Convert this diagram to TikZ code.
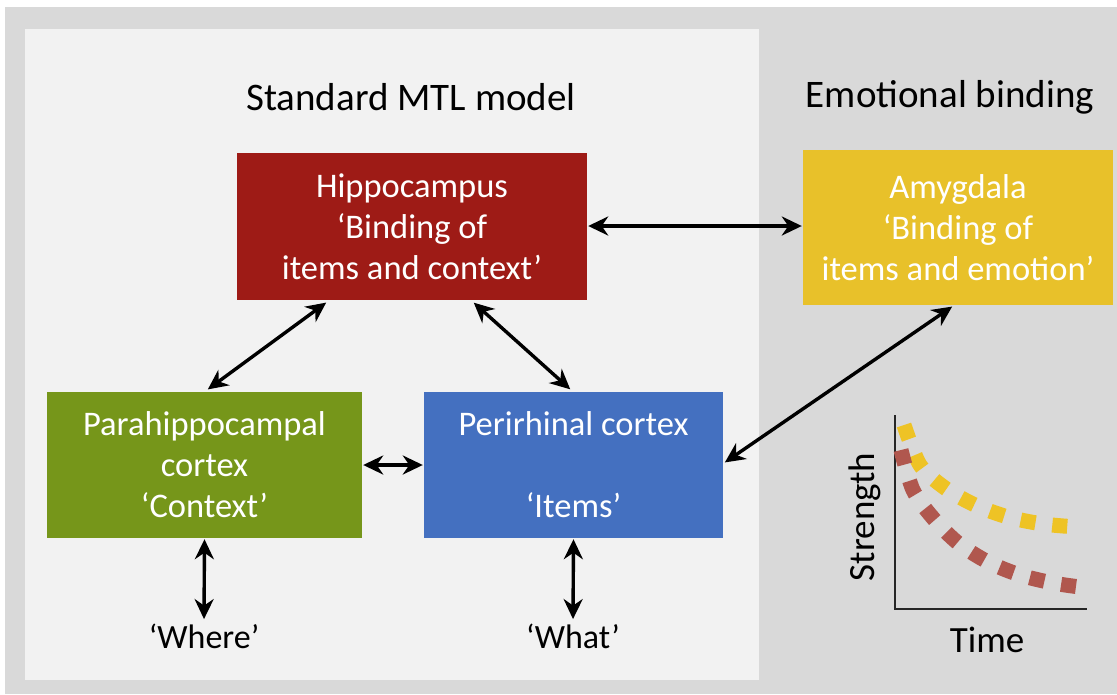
\documentclass[tikz,border=0pt]{standalone}
\usepackage{fontspec}
\setmainfont{Carlito}
\usetikzlibrary{arrows.meta}
\definecolor{bggray}{HTML}{D9D9D9}
\definecolor{panel}{HTML}{F2F2F2}
\definecolor{hipred}{HTML}{9E1B16}
\definecolor{amyyel}{HTML}{E8C12A}
\definecolor{paragreen}{HTML}{76961A}
\definecolor{periblue}{HTML}{4470C0}
\definecolor{curvered}{HTML}{B0574E}
\definecolor{curveyel}{HTML}{EEC325}
\begin{document}
\begin{tikzpicture}[x=1pt,y=-1pt,
  box/.style={rectangle, inner sep=0pt, text=white, align=center,
    font=\fontsize{34.5}{41}\selectfont},
  title/.style={font=\fontsize{39}{44}\selectfont, text=black},
  lbl/.style={font=\fontsize{34}{40}\selectfont, text=black},
  link/.style={line width=3.4pt, {Stealth[length=20pt,width=19pt]}-{Stealth[length=20pt,width=19pt]}, shorten <=1pt, shorten >=1pt}
]
\useasboundingbox (0,0) rectangle (1117,694);
\fill[white] (0,0) rectangle (1117,694);
\fill[bggray] (5,7) rectangle (1117,694);
\fill[panel] (25,29) rectangle (759,680);

\node[title] (t1) at (411,97) {Standard MTL model};
\node[title] (t2) at (950,97) {Emotional binding};

\node[box, fill=hipred, minimum width=350pt, minimum height=147pt] (hip) at (412,226.5)
  {Hippocampus\\‘Binding of\\items and context’};
\node[box, fill=amyyel, minimum width=310pt, minimum height=155pt] (amy) at (958,227.5)
  {Amygdala\\‘Binding of\\items and emotion’};
\node[box, fill=paragreen, minimum width=315pt, minimum height=146pt] (para) at (204.5,465)
  {Parahippocampal\\cortex\\‘Context’};
\node[box, fill=periblue, minimum width=299pt, minimum height=146pt] (peri) at (573.5,465)
  {Perirhinal cortex\\\mbox{}\\‘Items’};

\node[lbl] (where) at (204,636) {‘Where’};
\node[lbl] (what) at (573,636) {‘What’};

\coordinate (hipA) at (327,302);
\coordinate (paraA) at (207,390);
\coordinate (hipB) at (473,302);
\coordinate (periB) at (571,390);
\coordinate (amyB) at (953,306);
\coordinate (periR) at (724,463);

\draw[link] (hip.east |- 0,226) -- (amy.west |- 0,226);
\draw[link] (hipA) -- (paraA);
\draw[link] (hipB) -- (periB);
\draw[link] (para.east) -- (peri.west);
\draw[link] (amyB) -- (periR);
\draw[link] (para.south) -- (where.north);
\draw[link] (peri.south) -- (what.north);

% graph
\coordinate (origin) at (895,609);
\coordinate (ytop) at (895,415);
\coordinate (xend) at (1087,609);
\draw[line width=2pt, black!85] (ytop) -- (origin) -- (xend);
\node[lbl, font=\fontsize{37}{40}\selectfont, rotate=90] (strength) at (865,517) {Strength};
\node[lbl, font=\fontsize{37}{40}\selectfont] (time) at (987,640) {Time};
\draw[curveyel, line width=15pt, dash pattern=on 15pt off 17pt]
  plot[smooth] coordinates {(904,425) (920,465) (945,488) (975,505) (1008,517) (1043,524) (1077,527)};
\draw[curvered, line width=15pt, dash pattern=on 15pt off 17pt]
  plot[smooth] coordinates {(901,450) (913,490) (933,518) (958,543) (988,562) (1020,575) (1053,583) (1080,587)};
\end{tikzpicture}
\end{document}
